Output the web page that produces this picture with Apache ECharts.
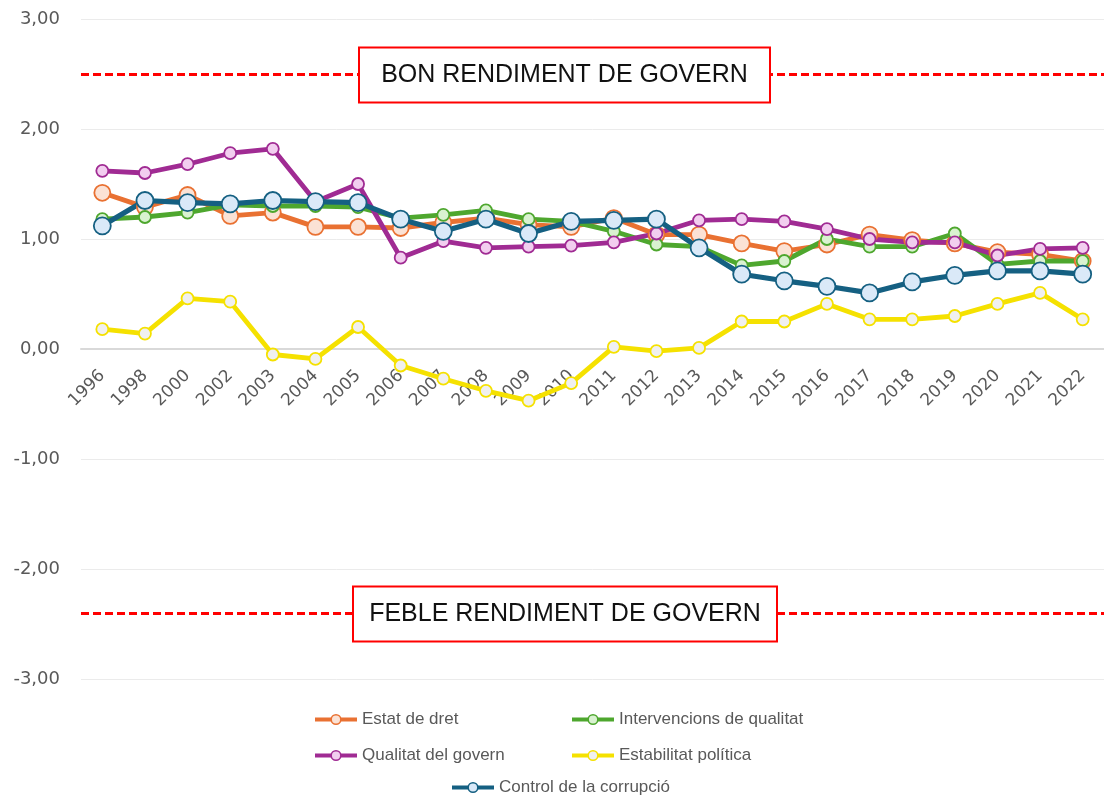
<!DOCTYPE html>
<html>
<head>
<meta charset="utf-8">
<script src="https://cdn.jsdelivr.net/npm/echarts@6/dist/echarts.min.js"></script>
<style>
html,body{margin:0;padding:0;background:#fff;}
#chart{width:1104px;height:798px;}
</style>
</head>
<body>
<div id="chart"></div>
<script>
const years = ['1996','1998','2000','2002','2003','2004','2005','2006','2007','2008','2009','2010','2011','2012','2013','2014','2015','2016','2017','2018','2019','2020','2021','2022'];
const estatDret = [1.42,1.29,1.40,1.21,1.24,1.11,1.11,1.10,1.15,1.19,1.13,1.11,1.19,1.04,1.04,0.96,0.89,0.95,1.04,0.99,0.96,0.88,0.86,0.80];
const intervencions = [1.18,1.20,1.24,1.31,1.30,1.30,1.29,1.19,1.22,1.26,1.18,1.16,1.07,0.95,0.93,0.76,0.80,1.00,0.93,0.93,1.05,0.77,0.80,0.80];
const qualitatGovern = [1.62,1.60,1.68,1.78,1.82,1.34,1.50,0.83,0.98,0.92,0.93,0.94,0.97,1.05,1.17,1.18,1.16,1.09,1.00,0.97,0.97,0.85,0.91,0.92];
const estabilitat = [0.18,0.14,0.46,0.43,-0.05,-0.09,0.20,-0.15,-0.27,-0.38,-0.47,-0.31,0.02,-0.02,0.01,0.25,0.25,0.41,0.27,0.27,0.30,0.41,0.51,0.27];
const corrupcio = [1.12,1.35,1.33,1.32,1.35,1.34,1.33,1.18,1.07,1.18,1.05,1.16,1.17,1.18,0.92,0.68,0.62,0.57,0.51,0.61,0.67,0.71,0.71,0.68];
const seriesNames = ['Estat de dret','Intervencions de qualitat','Qualitat del govern','Estabilitat política','Control de la corrupció'];
const upperThreshold = 2.5;
const lowerThreshold = -2.4;
const upperLabel = 'BON RENDIMENT DE GOVERN';
const lowerLabel = 'FEBLE RENDIMENT DE GOVERN';

const chart = echarts.init(document.getElementById('chart'));
const legendFont = {fontFamily:'Liberation Sans', fontSize:17, color:'#595959'};
function mkLegend(name, left, top){
  return {data:[name], left:left, top:top, itemWidth:42, itemHeight:12, textStyle:legendFont, itemGap:0, padding:0, selectedMode:false,
    lineStyle:{width:4}, itemStyle:{borderWidth:1.5}};
}
function mkSeries(name, data, color, fill, size, width){
  return {
    name:name, type:'line', data:data, symbol:'circle', symbolSize:size,
    lineStyle:{color:color, width:width},
    itemStyle:{color:fill, borderColor:color, borderWidth:1.8},
    emphasis:{disabled:true}
  };
}
const series = [
  mkSeries(seriesNames[0], estatDret, '#E97132', '#FBE2D5', 16, 4.8),
  mkSeries(seriesNames[1], intervencions, '#4EA72E', '#D9F2D0', 12, 4.8),
  mkSeries(seriesNames[2], qualitatGovern, '#A02B93', '#F2CEEF', 12, 4.8),
  mkSeries(seriesNames[3], estabilitat, '#F5E100', '#F0F0F0', 12, 4.8),
  mkSeries(seriesNames[4], corrupcio, '#156082', '#DAE9F8', 17, 5.2)
];
series[0].markLine = {
  silent:true, symbol:'none', animation:false,
  lineStyle:{color:'#FF0000', type:[8,4], width:3},
  label:{show:false},
  data:[{yAxis:upperThreshold},{yAxis:lowerThreshold}]
};
chart.setOption({
  animation:false,
  grid:{left:81, right:0, top:19, bottom:119, containLabel:false},
  legend:[
    mkLegend(seriesNames[0], 313, 711),
    mkLegend(seriesNames[1], 570, 711),
    mkLegend(seriesNames[2], 313, 747),
    mkLegend(seriesNames[3], 570, 747),
    mkLegend(seriesNames[4], 450, 779)
  ],
  xAxis:{
    type:'category', data:years, boundaryGap:true,
    axisLine:{onZero:false, lineStyle:{color:'#D9D9D9', width:2}},
    axisTick:{show:false},
    axisLabel:{rotate:45, interval:0, fontFamily:'DejaVu Sans', fontSize:17, color:'#595959', margin:24}
  },
  yAxis:{
    type:'value', min:-3, max:3, interval:1,
    axisLine:{show:false}, axisTick:{show:false},
    splitLine:{lineStyle:{color:'#EBEBEB', width:1}},
    axisLabel:{fontFamily:'DejaVu Sans', fontSize:18, color:'#595959', margin:21,
      formatter:v=>v.toFixed(2).replace('.',',')}
  },
  series:series
});
const yZero = chart.convertToPixel({yAxisIndex:0}, 0);
const yBottom = chart.convertToPixel({yAxisIndex:0}, -3);
const yUp = chart.convertToPixel({yAxisIndex:0}, upperThreshold);
const yLow = chart.convertToPixel({yAxisIndex:0}, lowerThreshold);
function box(text, left, cy, w, h){
  return {type:'group', left:left, top:cy-h/2, z:100, children:[
    {type:'rect', z:100, shape:{x:0,y:0,width:w,height:h}, style:{fill:'#fff', stroke:'#FF0000', lineWidth:2}},
    {type:'text', z:101, x:w/2, y:h/2, style:{text:text, align:'center', verticalAlign:'middle', fontFamily:'Liberation Sans', fontSize:25, fill:'#111'}}
  ]};
}
chart.setOption({
  xAxis:{offset: yZero - yBottom},
  graphic:[box(upperLabel, 358, yUp, 411, 55), box(lowerLabel, 352, yLow, 424, 55)]
});
</script>
</body>
</html>
